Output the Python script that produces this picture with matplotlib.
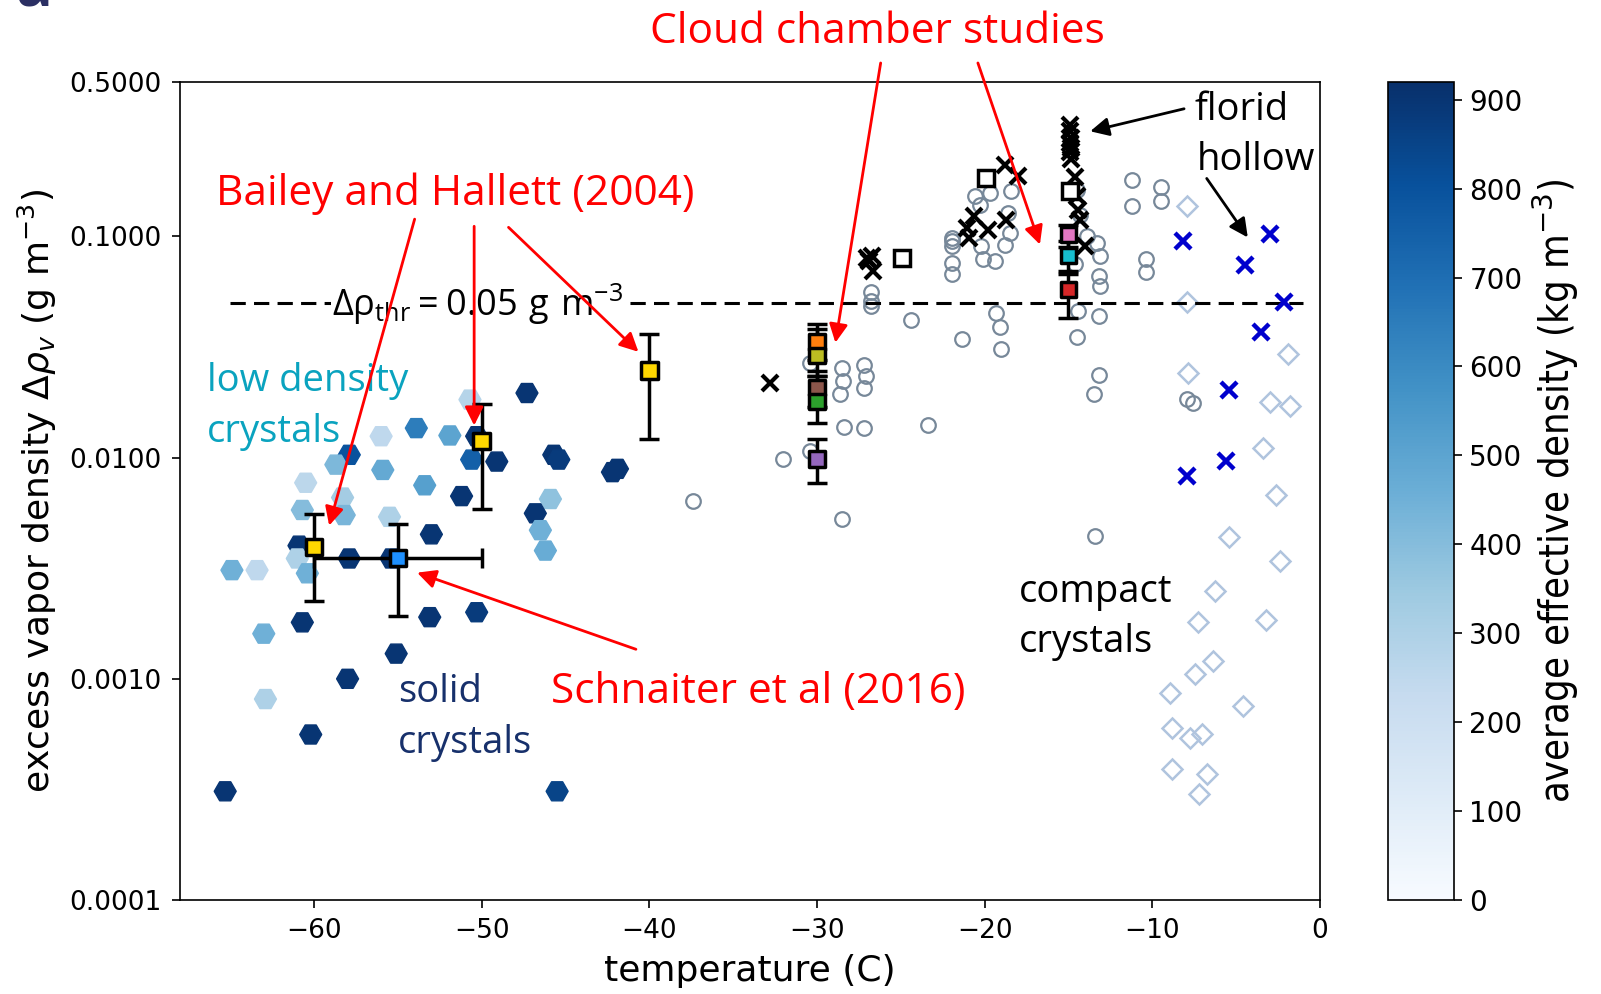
import matplotlib
matplotlib.use("Agg")
import matplotlib.pyplot as plt
from matplotlib.ticker import FixedLocator, FormatStrFormatter, NullLocator

# solid / low density crystals (hexagons), coloured by effective density
hex_temp = [-47.3, -50.7, -53.9, -56.0, -51.9, -50.3, -50.6, -49.1, -45.7, -45.4,
            -57.9, -58.7, -55.9, -60.5, -53.4, -51.2, -58.3, -60.7, -45.9, -46.8,
            -46.5, -46.2, -55.5, -53.0, -60.9, -61.0, -60.4, -64.9, -63.4, -57.9,
            -55.4, -58.2, -50.3, -53.1, -60.7, -63.0, -55.1, -58.0, -62.9, -60.2,
            -65.3, -45.5, -42.2, -41.9]
hex_dv = [0.0196, 0.0183, 0.0136, 0.0125, 0.0126, 0.0125, 0.0098, 0.0096, 0.0103, 0.0098,
          0.0103, 0.0093, 0.0088, 0.0077, 0.0075, 0.0067, 0.0066, 0.0058, 0.0065, 0.0056,
          0.0047, 0.0038, 0.0054, 0.0045, 0.0040, 0.0035, 0.0030, 0.0031, 0.0031, 0.0035,
          0.0035, 0.0055, 0.0020, 0.0019, 0.0018, 0.0016, 0.0013, 0.0010, 0.00081, 0.00056,
          0.00031, 0.00031, 0.0086, 0.0089]
hex_rho = [900, 280, 650, 250, 500, 900, 750, 900, 900, 880,
           800, 420, 480, 260, 520, 900, 330, 400, 380, 900,
           450, 470, 300, 900, 900, 300, 450, 450, 250, 900,
           900, 430, 880, 900, 900, 450, 900, 900, 300, 900,
           900, 850, 900, 900]

# compact crystals (open grey circles)
cmp_temp = [-37.4, -32.0, -30.4, -30.4, -28.5, -28.45, -28.6, -27.2, -27.1, -27.2,
            -28.4, -27.2, -23.4, -28.5, -26.8, -26.8, -26.8, -24.4, -21.95, -21.95,
            -21.95, -21.95, -21.95, -20.6, -20.3, -19.7, -18.4, -20.2, -20.1, -19.4,
            -18.6, -18.5, -18.8, -19.3, -19.1, -19.0, -21.35, -14.5, -13.9, -13.3,
            -13.1, -13.2, -13.1, -14.4, -13.2, -14.5, -11.2, -11.2, -9.45, -9.45,
            -10.4, -10.4, -13.5, -13.2, -7.95, -7.55, -13.4, -14.3, -14.6]
cmp_dv = [0.0064, 0.0099, 0.0268, 0.0107, 0.0255, 0.0221, 0.0195, 0.0263, 0.0233, 0.0207,
          0.0138, 0.0136, 0.0140, 0.0053, 0.0559, 0.0509, 0.0483, 0.0418, 0.0985, 0.0952,
          0.0903, 0.0759, 0.0679, 0.152, 0.139, 0.158, 0.160, 0.0903, 0.0787, 0.0772,
          0.128, 0.1037, 0.0918, 0.0451, 0.0390, 0.0310, 0.0344, 0.163, 0.1002, 0.0935,
          0.0814, 0.0660, 0.0595, 0.0459, 0.0435, 0.0351, 0.180, 0.138, 0.1667, 0.1448,
          0.0791, 0.0688, 0.0193, 0.0236, 0.01845, 0.0176, 0.00442, 0.125, 0.075]

# warm compact crystals (light diamonds)
dia_temp = [-7.95, -7.95, -7.85, -1.9, -3.0, -1.8, -3.4, -2.6, -5.45, -2.4,
            -6.25, -7.25, -3.2, -6.35, -7.45, -8.95, -4.6, -8.85, -7.75, -7.05,
            -8.85, -6.75, -7.2]
dia_dv = [0.138, 0.0508, 0.0242, 0.0294, 0.0179, 0.0171, 0.0111, 0.0068, 0.0044, 0.0034,
          0.0025, 0.0018, 0.00185, 0.0012, 0.00105, 0.00086, 0.00075, 0.0006, 0.00054, 0.00056,
          0.00039, 0.00037, 0.0003]

# hollow crystals (blue crosses)
hol_temp = [-8.15, -3.0, -4.45, -2.15, -3.5, -5.4, -5.6, -7.9]
hol_dv = [0.0953, 0.1031, 0.0745, 0.0508, 0.0371, 0.0202, 0.0097, 0.0083]

# florid crystals (black crosses)
flo_temp = [-32.8, -27.0, -26.7, -26.65, -26.9, -18.8, -18.0, -20.65, -21.05, -20.95,
            -19.8, -18.7, -14.9, -14.9, -14.85, -14.9, -14.85, -14.9, -14.85, -14.6,
            -14.5, -14.4, -14.3, -14.0]
flo_dv = [0.0218, 0.080, 0.0814, 0.0696, 0.0772, 0.211, 0.188, 0.1234, 0.1093, 0.0985,
          0.1074, 0.1184, 0.32, 0.30, 0.28, 0.265, 0.25, 0.24, 0.225, 0.185,
          0.152, 0.132, 0.119, 0.0903]

# open squares
osq_temp = [-24.9, -19.9, -14.9]
osq_dv = [0.080, 0.184, 0.160]

# cloud chamber studies: value, lower and upper bound
cc_temp = [-30, -30, -30, -30, -30, -15, -15, -15]
cc_dv = [0.0333, 0.0289, 0.0207, 0.0179, 0.00985, 0.102, 0.082, 0.0575]
cc_lo = [0.0275, 0.0233, 0.0170, 0.0144, 0.0077, 0.090, 0.070, 0.0428]
cc_hi = [0.0402, 0.0383, 0.0246, 0.0233, 0.0121, 0.113, 0.095, 0.068]
cc_col = ["tab:orange", "tab:olive", "tab:brown", "tab:green", "tab:purple",
          "tab:pink", "tab:cyan", "tab:red"]

# Bailey and Hallett (2004)
bh_temp = [-60, -50, -40]
bh_dv = [0.00394, 0.0119, 0.0248]
bh_lo = [0.00224, 0.00586, 0.01218]
bh_hi = [0.00558, 0.01754, 0.0364]

# Schnaiter et al (2016)
sc_temp = [-55]
sc_dv = [0.0035]
sc_lo = [0.00193]
sc_hi = [0.00502]
sc_terr = [5]

dv_thr = 0.05

ANN = "Open Sans"
RED = "#ff0000"

fig = plt.figure(figsize=(16.01, 9.94), dpi=100)
ax = fig.add_axes([0.1124, 0.0946, 0.712, 0.823])
cax = fig.add_axes([0.867, 0.0946, 0.0412, 0.823])

sc = ax.scatter(hex_temp, hex_dv, c=hex_rho, cmap="Blues", vmin=0, vmax=920,
                marker="H", s=250, zorder=2)
ax.plot(cmp_temp, cmp_dv, "o", ms=10.5, mfc="none", mec="#778899", mew=1.6, zorder=3)
ax.plot(dia_temp, dia_dv, "D", ms=10.5, mfc="none", mec="#b0c4de", mew=1.8, zorder=3)
ax.plot(hol_temp, hol_dv, "x", ms=12, mec="#0000cd", mew=3.2, zorder=4)
ax.plot(flo_temp, flo_dv, "x", ms=12, mec="black", mew=3.0, zorder=4)
ax.plot(osq_temp, osq_dv, "s", ms=11, mfc="white", mec="black", mew=2.5, zorder=5)

# threshold
ax.plot([-65, -1], [dv_thr, dv_thr], color="black", lw=2.2, ls=(0, (5, 2.7)), zorder=3)
ax.text(-58.9, dv_thr * 0.985, r"$\mathregular{\Delta\rho_{thr} = 0.05\ g\ m^{-3}}$",
        family=ANN, fontsize=26, ha="left", va="center", zorder=4,
        bbox=dict(fc="white", ec="none", pad=1))

def with_errors(t, v, lo, hi, colors, ms, xerr=None):
    yerr = [[a - b for a, b in zip(v, lo)], [b - a for a, b in zip(v, hi)]]
    ax.errorbar(t, v, yerr=yerr, xerr=xerr, fmt="none", ecolor="black",
                elinewidth=2.5, capsize=7, capthick=2.5, zorder=6)
    ax.scatter(t, v, c=colors, marker="s", s=ms ** 2, edgecolors="black",
               linewidths=2.5, zorder=7)

with_errors(cc_temp, cc_dv, cc_lo, cc_hi, cc_col, 11)
with_errors(bh_temp, bh_dv, bh_lo, bh_hi, ["#ffd700"] * 3, 12)
with_errors(sc_temp, sc_dv, sc_lo, sc_hi, ["#1e90ff"], 12, xerr=sc_terr)

ax.set_xlim(-68, 0)
ax.set_yscale("log")
ax.set_ylim(1e-4, 0.5)
ax.xaxis.set_major_locator(FixedLocator([-60, -50, -40, -30, -20, -10, 0]))
ax.yaxis.set_major_locator(FixedLocator([0.0001, 0.001, 0.01, 0.1, 0.5]))
ax.yaxis.set_minor_locator(NullLocator())
ax.yaxis.set_major_formatter(FormatStrFormatter("%.4f"))
ax.tick_params(labelsize=19, length=6, width=1.2, pad=7)
ax.set_xlabel("temperature (C)", fontsize=26, labelpad=7)
ax.set_ylabel(r"excess vapor density $\Delta\rho_v$ (g m$^{-3}$)", fontsize=26,
              labelpad=8)
for s in ax.spines.values():
    s.set_linewidth(1.2)

cb = fig.colorbar(sc, cax=cax, ticks=range(0, 1000, 100))
cb.ax.tick_params(labelsize=20, length=6, width=1.2, pad=5)
cb.outline.set_linewidth(1.2)
cb.set_label(r"average effective density (kg m$^{-3}$)", fontsize=28.5,
             fontstretch="condensed", labelpad=6)

# group labels
grp = dict(family=ANN, fontsize=27.5, ha="left", va="center", linespacing=1.43,
           zorder=5)
ax.text(-66.4, 0.0170, "low density\ncrystals", color="#0aa3bf", **grp)
ax.text(-55.0, 0.00067, "solid\ncrystals", color="#17306b", **grp)
ax.text(-17.95, 0.0019, "compact\ncrystals", color="black", **grp)
ax.text(-7.5, 0.372, "florid", family=ANN, fontsize=27.5, ha="left", va="center")
ax.text(-7.35, 0.222, "hollow", family=ANN, fontsize=27.5, ha="left", va="center")

# study labels and pointers
ax.text(-51.6, 0.156, "Bailey and Hallett (2004)", family=ANN, fontsize=30.5,
        color=RED, ha="center", va="center")
ax.text(-26.4, 0.84, "Cloud chamber studies", family=ANN, fontsize=30.5,
        color=RED, ha="center", va="center", clip_on=False)
ax.text(-33.5, 0.00087, "Schnaiter et al (2016)", family=ANN, fontsize=30.5,
        color=RED, ha="center", va="center")

def pointer(start, end, color=RED):
    ax.annotate("", xy=end, xytext=start, annotation_clip=False, zorder=8,
                arrowprops=dict(arrowstyle="-|>", color=color, lw=2,
                                mutation_scale=28, shrinkA=0, shrinkB=0))

pointer((-54.0, 0.1198), (-59.1, 0.00493))
pointer((-50.45, 0.1112), (-50.45, 0.01398))
pointer((-48.4, 0.110), (-40.65, 0.0301))
pointer((-26.2, 0.609), (-28.9, 0.0331))
pointer((-20.4, 0.609), (-16.7, 0.092))
pointer((-40.8, 0.00136), (-53.85, 0.00302))
pointer((-8.1, 0.378), (-13.7, 0.299), color="black")
pointer((-6.75, 0.183), (-4.3, 0.099), color="black")

fig.text(15 / 1601, 0.993, "a", family=ANN, fontsize=44, fontweight="bold",
         color="#2b2f63", ha="left", va="baseline")

fig.savefig("out.png", dpi=100)
